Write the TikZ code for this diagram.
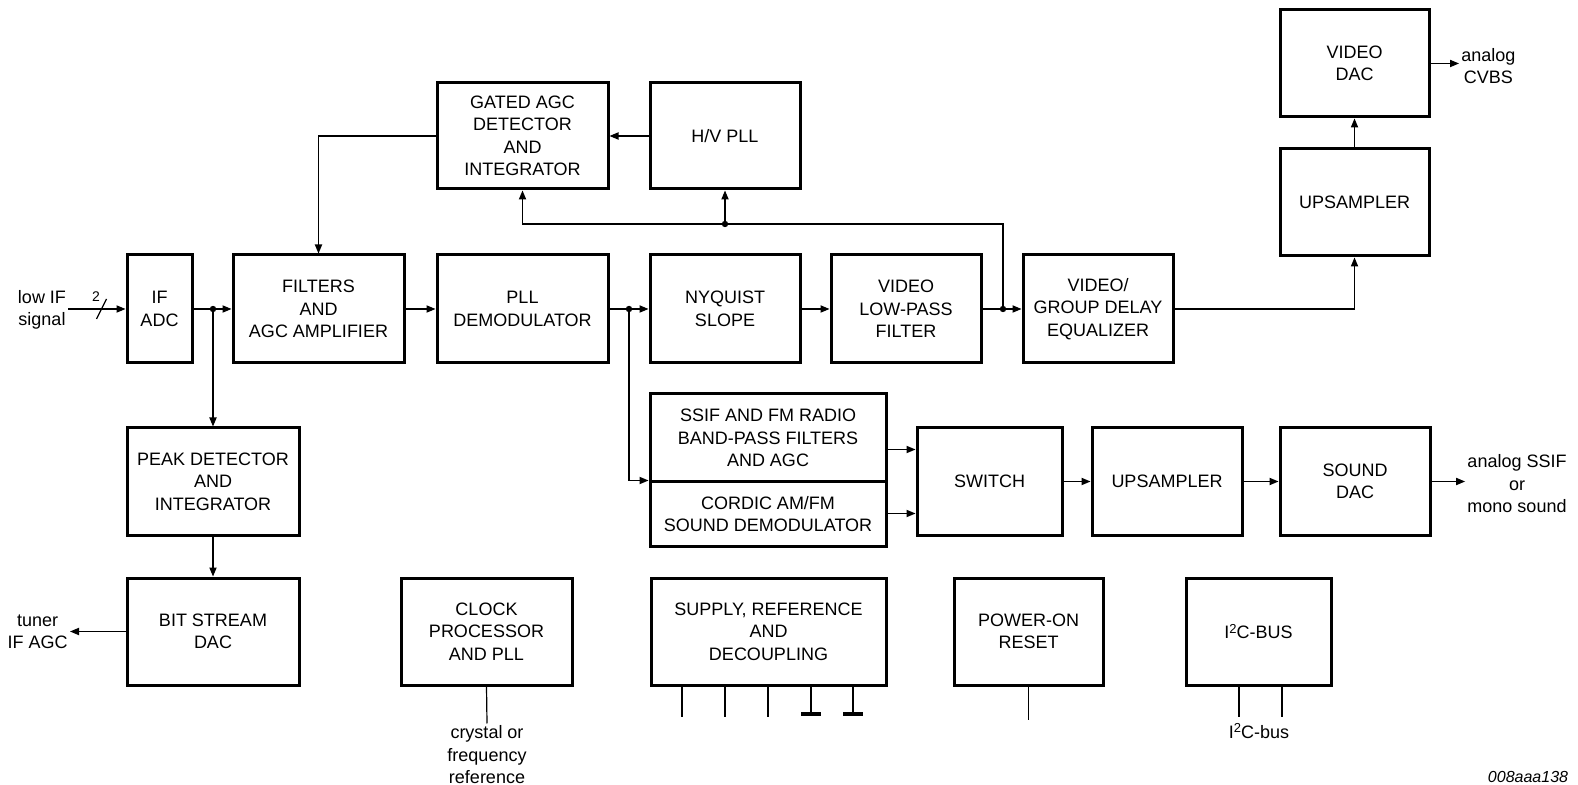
\documentclass[tikz,border=0pt]{standalone}
\usepackage{fontspec}
\setmainfont{Liberation Sans}
\usepackage{tikz}
\usetikzlibrary{arrows.meta}
\newcommand{\sqtwo}{{\fontsize{6.5}{7}\selectfont\raisebox{2.6pt}{2}}}

\begin{document}
\begin{tikzpicture}[x=0.5pt,y=-0.5pt,>={Triangle[length=4.5pt,width=3.6pt]},
  every node/.style={font=\fontsize{9}{11.25}\selectfont,align=center,inner sep=1pt},
  blk/.style={draw,line width=1.5pt,minimum height=54pt},
  wire/.style={line width=0.6pt},
  dot/.style={circle,fill,inner sep=0pt,minimum size=3.2pt}]
\useasboundingbox (0,0) rectangle (1578,785);
% main signal row
\node[blk,minimum width=32.5pt] (ifadc) at (159.5,309) {IF\\ADC};
\node[blk,minimum width=85.5pt] (filt) at (318.5,309) {FILTERS\\AND\\AGC AMPLIFIER};
\node[blk,minimum width=85.5pt] (pll) at (522.5,309) {PLL\\DEMODULATOR};
\node[blk,minimum width=75pt] (nyq) at (725,309) {NYQUIST\\SLOPE};
\node[blk,minimum width=75pt] (vlp) at (906,309) {VIDEO\\LOW-PASS\\FILTER};
\node[blk,minimum width=75pt] (equ) at (1098,309) {VIDEO/\\GROUP DELAY\\EQUALIZER};
% agc loop and video output
\node[blk,minimum width=85.5pt,minimum height=53pt] (gated) at (522.5,136) {GATED AGC\\DETECTOR\\AND\\INTEGRATOR};
\node[blk,minimum width=75pt,minimum height=53pt] (hvpll) at (725,136) {H/V PLL};
\node[blk,minimum width=74.5pt,minimum height=53.5pt] (vdac) at (1354.5,63.5) {VIDEO\\DAC};
\node[blk,minimum width=74.5pt,minimum height=53.5pt] (ups1) at (1354.5,202.5) {UPSAMPLER};
% sound path
\node[blk,minimum width=118pt,minimum height=44pt] (ssif) at (768,438) {SSIF AND FM RADIO\\BAND-PASS FILTERS\\AND AGC};
\node[blk,minimum width=118pt,minimum height=32pt] (cordic) at (768,514) {CORDIC AM/FM\\SOUND DEMODULATOR};
\node[blk,minimum width=72.5pt,minimum height=53.5pt] (switch) at (989.5,481.5) {SWITCH};
\node[blk,minimum width=75pt,minimum height=53.5pt] (ups2) at (1167,481.5) {UPSAMPLER};
\node[blk,minimum width=75pt,minimum height=53.5pt] (sdac) at (1355,481.5) {SOUND\\DAC};
% tuner agc
\node[blk,minimum width=86pt,minimum height=53.5pt] (peak) at (213,481.5) {PEAK DETECTOR\\AND\\INTEGRATOR};
\node[blk,minimum width=86pt,minimum height=53.5pt] (bsdac) at (213,631.5) {BIT STREAM\\DAC};
% support blocks
\node[blk,minimum width=85.5pt,minimum height=53.5pt] (clock) at (486.5,631.5) {CLOCK\\PROCESSOR\\AND PLL};
\node[blk,minimum width=117.5pt,minimum height=53.5pt] (supply) at (768.5,631.5) {SUPPLY, REFERENCE\\AND\\DECOUPLING};
\node[blk,minimum width=74.5pt,minimum height=53.5pt] (por) at (1028.5,631.5) {POWER-ON\\RESET};
\node[blk,minimum width=72.5pt,minimum height=53.5pt] (i2c) at (1258.5,631.5) {I\sqtwo C-BUS};
% pins and labels
\node (lowif) at (42,310) {low IF\\signal};
\node[anchor=east] (tuner) at (70,632) {tuner\\IF AGC};
\node[anchor=west] (cvbs) at (1459,66) {analog\\CVBS};
\node (ssifout) at (1517,484) {analog SSIF\\or\\mono sound};
\node (xtal) at (487,755) {crystal or\\frequency\\reference};
\node (i2cbus) at (1259,731) {I\sqtwo C-bus};
\node[font=\fontsize{8}{10}\selectfont\itshape] (figid) at (1528,777) {008aaa138};
\coordinate (j1) at (213,309);
\coordinate (j2) at (629,309);
\coordinate (j3) at (1003,309);
\coordinate (j4) at (725,224);

\begin{scope}[wire]
\draw[->] (ifadc.west -| lowif.east) -- (ifadc.west);
\draw ([xshift=-14.5pt,yshift=-5pt]ifadc.west) -- ++(5pt,10pt);
\node[font=\fontsize{7}{8}\selectfont] (bus) at (96,297) {2};
\draw[->] (ifadc) -- (filt);
\draw[->] (j1) -- (peak.north);
\draw[->] (filt) -- (pll);
\draw[->] (pll) -- (nyq);
\draw[->] (j2) |- (cordic.north west);
\draw[->] (nyq) -- (vlp);
\draw[->] (vlp) -- (equ);
\draw[->] (j3) |- (gated.south |- j4) -- (gated.south);
\draw[->] (j4) -- (hvpll.south);
\draw[->] (hvpll) -- (gated);
\draw[->] (gated.west) -| (filt.north);
\draw[->] (equ.east) -| (ups1.south);
\draw[->] (ups1) -- (vdac);
\draw[->] (vdac.east) -- (vdac.east -| cvbs.west);
\draw[->] (peak) -- (bsdac);
\draw[->] (bsdac.west) -- (bsdac.west -| tuner.east);
\draw[->] ([yshift=16pt]switch.west -| ssif.east) -- ([yshift=16pt]switch.west);
\draw[->] ([yshift=-16pt]switch.west -| cordic.east) -- ([yshift=-16pt]switch.west);
\draw[->] (switch) -- (ups2);
\draw[->] (ups2) -- (sdac);
\draw[->] (sdac.east) -- (sdac.east -| ssifout.west);
\draw (clock.south) -- (xtal.north);
\foreach \x in {682,725,768}
  \draw (supply.south -| \x,0) -- (\x,717);
\foreach \x in {811,853} {
  \draw (supply.south -| \x,0) -- (\x,713);
  \fill (\x-10,711.5) rectangle (\x+10,716);
}
\draw (por.south) -- ++(0,33);
\foreach \x in {1239,1282}
  \draw (i2c.south -| \x,0) -- (\x,717);
\end{scope}
\foreach \j in {j1,j2,j3,j4}
  \node[dot] at (\j) {};
\end{tikzpicture}
\end{document}
